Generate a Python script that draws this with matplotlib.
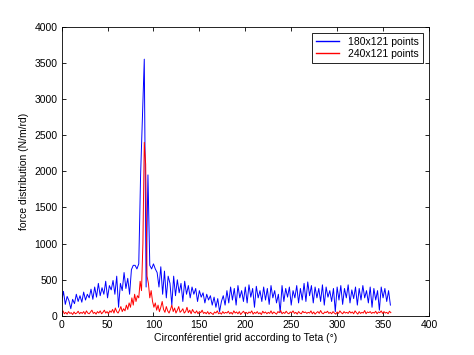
import matplotlib
matplotlib.use("Agg")
import matplotlib.pyplot as plt
import numpy as np

plt.rcParams['font.family'] = ['Liberation Sans', 'DejaVu Sans']
FONTSIZE = 7.5

# blue series: 180 points, 2 deg step
blue_step = 2.0
blue_vals = [
    200, 340, 160, 270, 210, 100, 230, 170, 300, 200,
    280, 190, 330, 220, 300, 250, 370, 230, 400, 260,
    450, 280, 390, 300, 480, 250, 420, 360, 490, 300,
    550, 120, 450, 350, 600, 380, 520, 300, 640, 700,
    700, 650, 720, 1950, 2750, 3550, 400, 1950, 700, 650,
    720, 650, 600, 400, 680, 300, 620, 250, 550, 450,
    150, 550, 280, 500, 320, 450, 200, 480, 300, 420,
    250, 400, 300, 380, 200, 350, 260, 320, 180, 300,
    220, 280, 150, 260, 120, 240, 60, 200, 280, 150,
    350, 180, 400, 220, 380, 150, 420, 250, 350, 200,
    400, 180, 430, 260, 380, 120, 410, 250, 350, 200,
    400, 220, 380, 160, 420, 250, 350, 180, 300, 50,
    420, 200, 380, 260, 400, 150, 350, 250, 420, 180,
    380, 220, 450, 200, 470, 280, 420, 180, 400, 250,
    380, 200, 430, 150, 400, 260, 350, 200, 380, 60,
    400, 220, 420, 160, 380, 250, 430, 180, 360, 240,
    400, 150, 380, 220, 420, 250, 350, 180, 400, 120,
    380, 220, 350, 80, 400, 250, 380, 200, 350, 150,
]

# red series: 240 points, 1.5 deg step
red_step = 1.5
red_vals = [
    40, 70, 30, 50, 25, 60, 35, 45, 20, 55, 30, 40, 65, 30, 50,
    35, 60, 25, 70, 40, 30, 55, 80, 35, 50, 25, 60, 40, 70, 30,
    50, 80, 40, 60, 30, 70, 50, 90, 40, 110, 60, 40, 80, 130, 60,
    100, 70, 150, 90, 180, 120, 250, 150, 300, 200, 280, 250, 480, 350, 1000,
    2400, 2100, 550, 450, 250, 350, 200, 120, 180, 80, 150, 60, 120, 200, 90,
    50, 130, 70, 40, 90, 150, 60, 110, 40, 80, 130, 50, 70, 100, 40,
    60, 120, 45, 80, 30, 90, 55, 40, 70, 30, 60, 45, 80, 35, 50,
    30, 60, 25, 50, 35, 20, 55, 40, 70, 30, 45, 25, 60, 35, 50,
    40, 65, 30, 50, 25, 70, 40, 55, 30, 60, 20, 45, 65, 35, 50,
    30, 55, 40, 70, 25, 50, 35, 60, 30, 45, 20, 65, 40, 55, 30,
    50, 35, 70, 30, 55, 40, 25, 60, 45, 75, 30, 50, 35, 65, 40,
    30, 55, 45, 70, 35, 50, 25, 60, 40, 30, 65, 45, 55, 35, 50,
    40, 70, 30, 55, 25, 45, 60, 35, 75, 40, 30, 55, 45, 65, 35,
    50, 30, 60, 40, 25, 55, 35, 70, 45, 30, 60, 40, 50, 35, 65,
    40, 55, 30, 70, 45, 25, 60, 35, 50, 40, 75, 30, 55, 45, 60,
    35, 50, 40, 65, 30, 55, 45, 70, 35, 60, 40, 50, 30, 65, 45,
]

blue_x = np.arange(len(blue_vals)) * blue_step
red_x = np.arange(len(red_vals)) * red_step

fig = plt.figure(figsize=(4.74, 3.55), dpi=100)
ax = fig.add_axes([0.13, 0.11, 0.775, 0.815])

ax.plot(blue_x, blue_vals, color=(0, 0, 1), linewidth=0.7, label='180x121 points')
ax.plot(red_x, red_vals, color=(1, 0, 0), linewidth=0.7, label='240x121 points')

ax.set_xlim(0, 400)
ax.set_ylim(0, 4000)
ax.set_xticks(np.arange(0, 401, 50))
ax.set_yticks(np.arange(0, 4001, 500))
ax.tick_params(direction='in', top=True, right=True, length=3, width=0.6,
               labelsize=FONTSIZE, pad=3)
for s in ax.spines.values():
    s.set_linewidth(0.6)

ax.set_xlabel('Circonférentiel grid according to Teta (°)', fontsize=FONTSIZE, labelpad=2)
ax.set_ylabel('force distribution (N/m/rd)', fontsize=FONTSIZE, labelpad=4)

leg = ax.legend(loc='upper right', fontsize=FONTSIZE, fancybox=False, framealpha=1,
                edgecolor='black', handlelength=2.2, borderaxespad=0.6,
                borderpad=0.4, labelspacing=0.2)
leg.get_frame().set_linewidth(0.6)
for line in leg.get_lines():
    line.set_linewidth(1.0)

fig.savefig('out.png', dpi=100)
